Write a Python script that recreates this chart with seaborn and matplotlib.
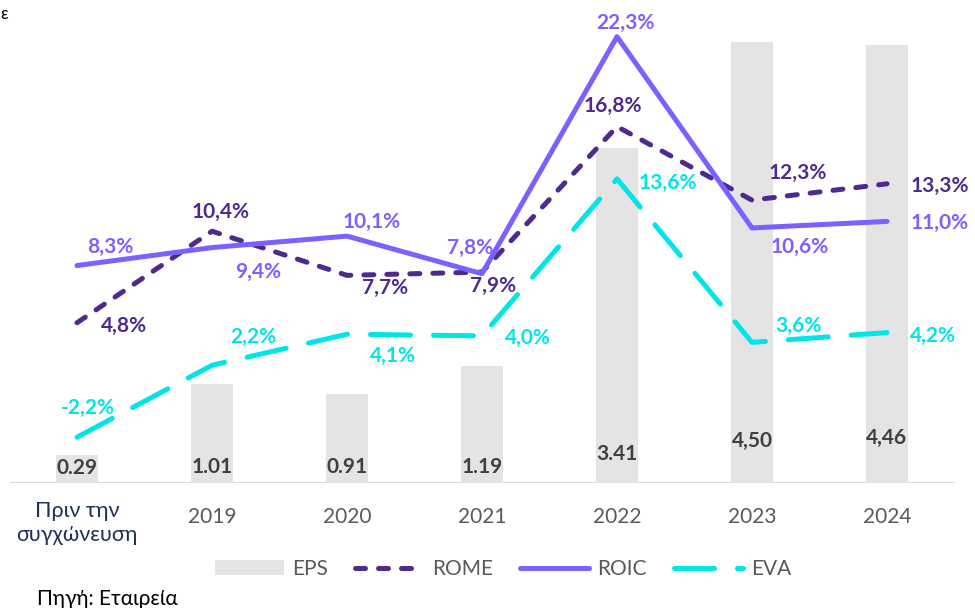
import numpy as np
import pandas as pd
import matplotlib
matplotlib.use("Agg")
import matplotlib.pyplot as plt
from matplotlib.lines import Line2D
from matplotlib.patches import Patch
from matplotlib.transforms import ScaledTranslation
import seaborn as sns

# ---- data ----
categories = ["Πριν την\nσυγχώνευση", "2019", "2020", "2021", "2022", "2023", "2024"]
eps = [0.29, 1.01, 0.91, 1.19, 3.41, 4.50, 4.46]
eps_labels = ["0.29", "1.01", "0.91", "1.19", "3.41", "4,50", "4,46"]
rome = [4.8, 10.4, 7.7, 7.9, 16.8, 12.3, 13.3]
roic = [8.3, 9.4, 10.1, 7.8, 22.3, 10.6, 11.0]
eva = [-2.2, 2.2, 4.1, 4.0, 13.6, 3.6, 4.2]

# ---- style ----
sns.set_theme(style="white")
plt.rcParams["font.family"] = ["Lato", "Open Sans", "DejaVu Sans"]

C_BAR = "#E4E4E4"
C_ROME = "#4E2A8E"
C_ROIC = "#7B61FF"
C_EVA = "#00E6E8"
C_TXT = "#595959"

# label vertical positions inside bars (data units) and line-label offsets (pixels)
eps_label_y = [0.15, 0.16, 0.16, 0.16, 0.30, 0.43, 0.46]
roic_off = [(33, 19), (46, -24), (25, 14), (-12, 26), (8, 14), (48, -19), (53, -2)]
rome_off = [(47, -3), (9, 19), (38, -13), (11, -14), (-4, 21), (46, 27), (53, -2)]
eva_off = [(11, 29), (41, 28), (46, -22), (46, -2), (51, -4), (46, 16), (46, -3)]

W, H = 975, 608
fig = plt.figure(figsize=(W / 100, H / 100), dpi=100)
ax = fig.add_axes([9.5 / W, 1 - 483 / H, 945 / W, 490.5 / H])

df = pd.DataFrame({"cat": categories, "eps": eps})
sns.barplot(data=df, x="cat", y="eps", ax=ax, color=C_BAR, width=0.315,
            saturation=1, edgecolor="none")
ax.set_ylim(0, 5)
ax.set_xlim(-0.5, len(categories) - 0.5)
for i, (lab, yy) in enumerate(zip(eps_labels, eps_label_y)):
    ax.text(i, yy, lab, ha="center", va="center", fontsize=15,
            fontweight="bold", color="#404040")

ax2 = ax.twinx()
x = np.arange(len(categories))
series = [
    ("EVA", eva, C_EVA, [8, 4.6], eva_off),
    ("ROME", rome, C_ROME, [2.0, 2.6], rome_off),
    ("ROIC", roic, C_ROIC, None, roic_off),
]
for name, vals, col, dash, offs in series:
    sns.lineplot(x=x, y=vals, ax=ax2, color=col, linewidth=3.6, legend=False)
    ln = ax2.lines[-1]
    ln.set_solid_capstyle("round")
    ln.set_dash_capstyle("round")
    if dash is not None:
        ln.set_dashes(dash)
    for xi, v, (dx, dy) in zip(x, vals, offs):
        ax2.annotate(f"{v:.1f}%".replace(".", ","), (xi, v), xytext=(dx, dy),
                     textcoords="offset pixels", ha="center", va="center",
                     fontsize=15, fontweight="bold", color=col)
ax2.set_ylim(-5, 25)

for a in (ax, ax2):
    a.set_yticks([])
    a.set_ylabel("")
    a.set_xlabel("")
    for s in a.spines.values():
        s.set_visible(False)
    a.grid(False)

ax.axhline(0, color="#D9D9D9", linewidth=1.5, zorder=0.5)

ax.set_xticks(x)
ax.set_xticklabels(categories, fontsize=15, color=C_TXT)
ax.tick_params(axis="x", length=0, pad=17)
first = ax.get_xticklabels()[0]
first.set_color("#1F3056")
first.set_linespacing(1.3)
first.set_fontsize(15.5)
first.set_transform(first.get_transform() +
                    ScaledTranslation(0, 6 / 100, fig.dpi_scale_trans))

# legend
handles = [
    Patch(facecolor=C_BAR, edgecolor="none"),
    Line2D([], [], color=C_ROME, lw=3.6, dashes=[2.0, 2.6], dash_capstyle="round"),
    Line2D([], [], color=C_ROIC, lw=3.6, solid_capstyle="round"),
    Line2D([], [], color=C_EVA, lw=3.6, dashes=[8, 4.6], dash_capstyle="round"),
]
fig.legend(handles, ["EPS", "ROME", "ROIC", "EVA"], loc="center",
           bbox_to_anchor=(503 / W, 1 - 569 / H), ncol=4, frameon=False,
           fontsize=15, labelcolor=C_TXT, handlelength=3.3, handleheight=0.7,
           handletextpad=0.4, columnspacing=1.3)

fig.text(37 / W, 1 - 599 / H, "Πηγή: Εταιρεία", fontsize=15, color="#000000",
         ha="left", va="center")
fig.text(0.5 / W, 1 - 14 / H, "ε", fontsize=12, color="#000000", ha="left", va="center")

fig.savefig("out.png", dpi=100)
